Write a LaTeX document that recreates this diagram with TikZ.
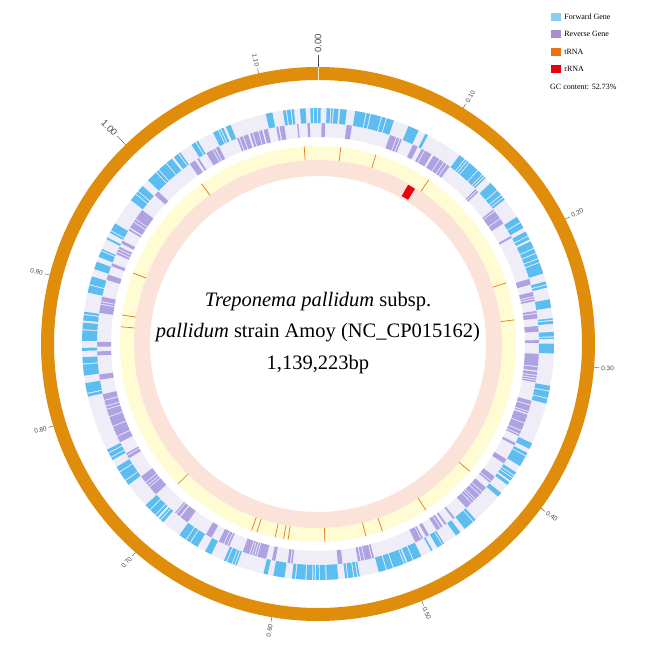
\documentclass[tikz,border=0pt]{standalone}
\usepackage{fontspec}
\setmainfont{Liberation Serif}
\setsansfont{Liberation Sans}
\usepackage{tikz}
\usetikzlibrary{positioning}
\definecolor{ringorange}{HTML}{DF8D0B}
\definecolor{fwdblue}{HTML}{5CBDF0}
\definecolor{revpurple}{HTML}{AEA2E3}
\definecolor{trackbg}{HTML}{EFEEF8}
\definecolor{gcyellow}{HTML}{FFFBD3}
\definecolor{skewpink}{HTML}{FCE3D9}
\definecolor{trnaorange}{HTML}{E4761E}
\definecolor{rrnared}{HTML}{E8000F}
\definecolor{labgray}{HTML}{4A4A4A}
\definecolor{legblue}{HTML}{85CFF4}
\definecolor{legpurple}{HTML}{A78FCB}
\definecolor{legorange}{HTML}{E8730F}

% annular sector: style, start/end angle (clockwise from top), inner/outer radius
\newcommand{\gsector}[5]{%
  \fill[#1] (90-#2:#4pt) arc[start angle=90-#2, end angle=90-#3, radius=#4pt]
    -- (90-#3:#5pt) arc[start angle=90-#3, end angle=90-#2, radius=#5pt] -- cycle;}

\begin{document}
\begin{tikzpicture}[
  swatch/.style={minimum width=10pt, minimum height=8pt, inner sep=0pt},
  legtext/.style={anchor=west, inner sep=0pt, font=\fontsize{8}{9}\selectfont},
  maptitle/.style={align=center, inner sep=0pt, font=\fontsize{20.5}{31.5}\selectfont},
  ticklab/.style={text=labgray, inner sep=0pt, font=\sffamily\fontsize{6.5}{7}\selectfont},
  bigtick/.style={ticklab, font=\sffamily\fontsize{9.5}{10}\selectfont},
  trna/.style={draw=trnaorange, line width=0.7pt}
]
\useasboundingbox[fill=white] (-318pt,-317pt) rectangle (335pt,344pt);

% outer ring
\draw[ringorange, line width=13pt] (0,0) circle[radius=270.5pt];
\draw[white!75!ringorange, line width=0.6pt] (90:264pt) -- (90:277pt);

% scale ticks
\foreach \v/\lab in {0/0.00,1/0.10,2/0.20,3/0.30,4/0.40,5/0.50,6/0.60,7/0.70,8/0.80,9/0.90,10/1.00,11/1.10}{
  \pgfmathsetmacro\ta{\v*36/1.139223}
  \ifnum\v=0 \def\tl{12}\def\lst{bigtick}\else\ifnum\v=10 \def\tl{12}\def\lst{bigtick}\else\def\tl{5}\def\lst{ticklab}\fi\fi
  \draw[labgray, line width=0.4pt] (90-\ta:277pt) -- (90-\ta:277pt+\tl pt);
  \pgfmathparse{\ta<180 ? 1 : 0}
  \ifnum\pgfmathresult=1
    \node[\lst, anchor=west, rotate=90-\ta] (tl\v) at (90-\ta:279pt+\tl pt) {\lab};
  \else
    \node[\lst, anchor=east, rotate=270-\ta] (tl\v) at (90-\ta:279pt+\tl pt) {\lab};
  \fi
}

% gene tracks
\fill[trackbg, even odd rule] (0,0) circle[radius=236pt] (0,0) circle[radius=207pt];
\pgfmathsetseed{2016}
\xdef\gpos{0}
\xdef\gstr{1}
\foreach \k in {1,...,340}{
  \pgfmathsetmacro\glen{0.35+3.0*rnd*rnd}
  \pgfmathsetmacro\ggap{rnd<0.85 ? 0.25 : 0.3+0.4*rnd}
  \pgfmathtruncatemacro\gflip{rnd<0.4 ? 1 : 0}
  \pgfmathtruncatemacro\gnew{\gflip==1 ? 1-\gstr : \gstr}
  \xdef\gstr{\gnew}
  \pgfmathsetmacro\ga{\gpos}
  \pgfmathsetmacro\gb{min(\gpos+\glen,360)}
  \ifdim\ga pt<359.9pt
    \ifnum\gstr=1 \gsector{fwdblue}{\ga}{\gb}{221}{236}%
    \else \gsector{revpurple}{\ga}{\gb}{207}{221}\fi
  \fi
  \pgfmathsetmacro\gnext{\gb+\ggap}
  \xdef\gpos{\gnext}
}

% GC and skew rings
\fill[gcyellow, even odd rule] (0,0) circle[radius=198pt] (0,0) circle[radius=184pt];
\fill[skewpink, even odd rule] (0,0) circle[radius=184pt] (0,0) circle[radius=168pt];

% tRNA and rRNA
\foreach \a in {-4,6.6,17,34,72,83,130,147,161,166,178,188.7,190,192.5,198,199.6,225,275,278.4,291,324}
  \draw[trna] (90-\a:184pt) -- (90-\a:198pt);
\gsector{rrnared}{29.5}{32}{170}{183}

% centre label
\node[maptitle] (mapname) at (0,11pt)
  {\textit{Treponema pallidum} subsp.\\\textit{pallidum} strain Amoy (NC\_CP015162)\\1,139,223bp};

% legend
\node[swatch, fill=legblue] (swfwd) at (238pt,327pt) {};
\node[legtext, right=3pt of swfwd] (txfwd) {Forward Gene};
\node[swatch, fill=legpurple] (swrev) at (238pt,310pt) {};
\node[legtext, right=3pt of swrev] (txrev) {Reverse Gene};
\node[swatch, fill=legorange] (swtrna) at (238pt,292pt) {};
\node[legtext, right=3pt of swtrna] (txtrna) {tRNA};
\node[swatch, fill=rrnared] (swrrna) at (238pt,275pt) {};
\node[legtext, right=3pt of swrrna] (txrrna) {rRNA};
\node[legtext] (gctext) at (232pt,257pt) {GC content: 52.73\%};
\end{tikzpicture}
\end{document}
